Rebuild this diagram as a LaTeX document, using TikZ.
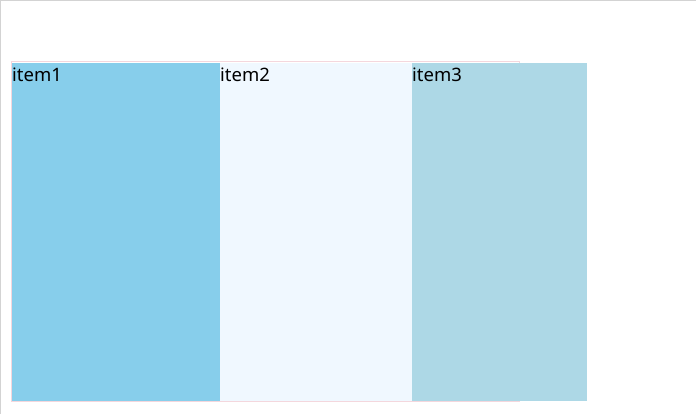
\documentclass[tikz,border=0pt]{standalone}
\usepackage{fontspec}
\setmainfont{Noto Sans}
\usepackage{tikz}
\usetikzlibrary{positioning}
\definecolor{skyblue}{HTML}{87CEEB}
\definecolor{aliceblue}{HTML}{F0F8FF}
\definecolor{lightblue}{HTML}{ADD8E6}
\definecolor{pagegray}{HTML}{D3D3D3}
\definecolor{boxpink}{HTML}{F4D7DD}

\begin{document}
\begin{tikzpicture}[x=1pt, y=-1pt,
  itemtext/.style={anchor=base west, inner sep=0pt, font=\fontsize{18.5}{20}\selectfont}]
\useasboundingbox (0,0) rectangle (696,414);
\draw[pagegray, line width=1.2pt] (0.6,414) -- (0.6,0.6) -- (696,0.6);

% container
\draw[boxpink, line width=1pt] (11, 62) rectangle (519, 401.5);

% flex items
\foreach \name/\xa/\xb/\col in {item1/12/220/skyblue, item2/220/412/aliceblue, item3/412/587/lightblue} {
  \fill[\col] (\xa, 63) rectangle (\xb, 401);
  \node[itemtext] (\name) at (\xa, 81.5) {\name};
}
\end{tikzpicture}
\end{document}
